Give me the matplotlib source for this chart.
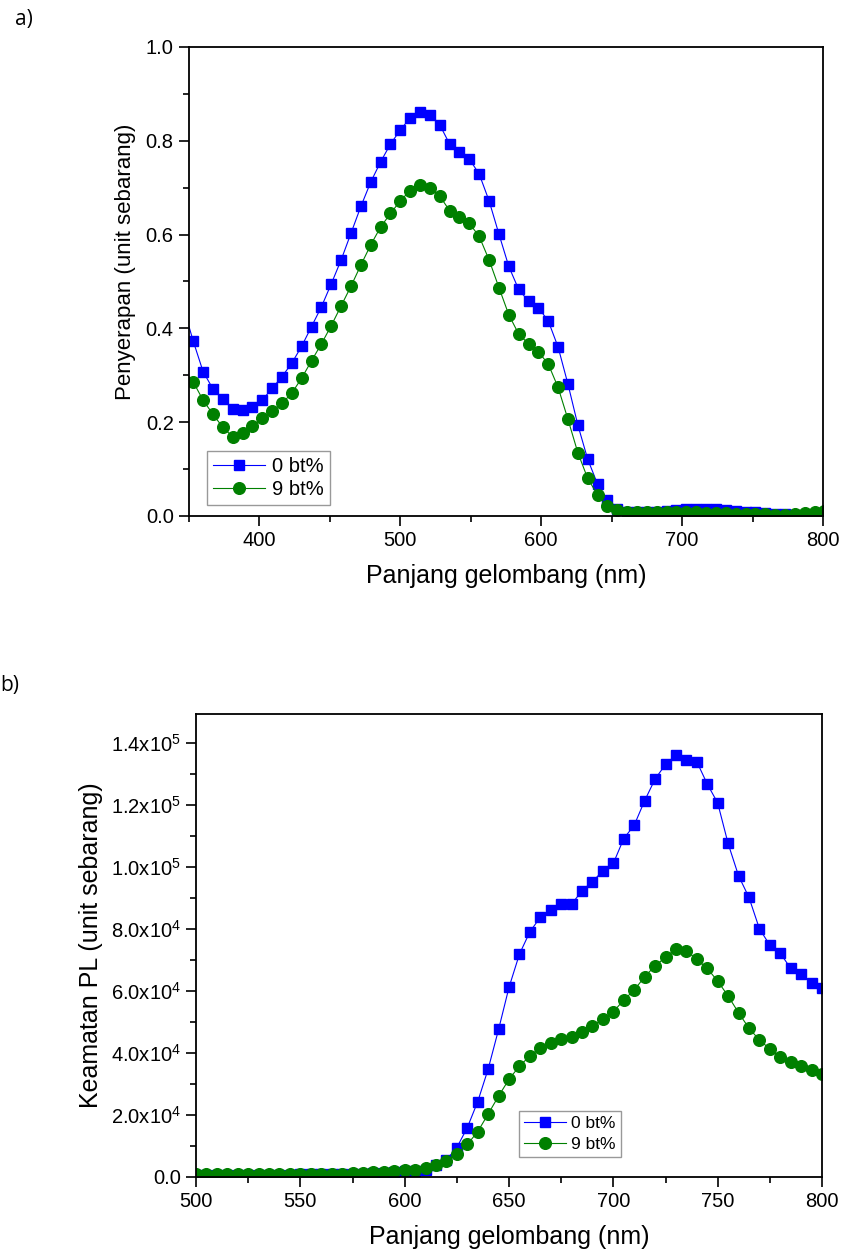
import math
import matplotlib
matplotlib.use("Agg")
import matplotlib.pyplot as plt
from matplotlib.ticker import MultipleLocator, FuncFormatter

plt.rcParams['font.family'] = ['Liberation Sans', 'DejaVu Sans']
plt.rcParams['mathtext.fontset'] = 'custom'
plt.rcParams['mathtext.rm'] = 'Liberation Sans'
plt.rcParams['mathtext.it'] = 'Liberation Sans'

# ---------------- data: (a) absorption ----------------
wl_a = [350, 353, 360, 367, 374, 381, 388, 395, 402, 409, 416, 423, 430, 437, 444, 451,
        458, 465, 472, 479, 486, 493, 500, 507, 514, 521, 528, 535, 542, 549, 556,
        563, 570, 577, 584, 591, 598, 605, 612, 619, 626, 633, 640, 647, 654, 661,
        668, 675, 682, 689, 696, 703, 710, 717, 724, 731, 738, 745, 752, 759, 766,
        773, 780, 787, 794, 801]
abs_0 = [0.404, 0.373, 0.308, 0.271, 0.249, 0.228, 0.225, 0.232, 0.247, 0.272, 0.297,
         0.326, 0.362, 0.404, 0.446, 0.495, 0.546, 0.603, 0.660, 0.712, 0.755, 0.793,
         0.823, 0.849, 0.862, 0.855, 0.834, 0.793, 0.777, 0.761, 0.729, 0.672, 0.601,
         0.532, 0.483, 0.458, 0.444, 0.416, 0.360, 0.281, 0.194, 0.121, 0.068, 0.034,
         0.014, 0.009, 0.008, 0.008, 0.009, 0.011, 0.013, 0.014, 0.015, 0.015, 0.014,
         0.012, 0.011, 0.009, 0.008, 0.006, 0.005, 0.004, 0.003, 0.003, 0.003, 0.003]
abs_9 = [0.297, 0.286, 0.247, 0.217, 0.189, 0.169, 0.176, 0.192, 0.208, 0.224, 0.240,
         0.262, 0.294, 0.331, 0.367, 0.406, 0.448, 0.490, 0.535, 0.578, 0.616, 0.645,
         0.672, 0.694, 0.705, 0.699, 0.682, 0.651, 0.638, 0.624, 0.596, 0.546, 0.487,
         0.429, 0.388, 0.367, 0.350, 0.324, 0.274, 0.206, 0.135, 0.080, 0.045, 0.021,
         0.013, 0.009, 0.008, 0.008, 0.008, 0.008, 0.008, 0.008, 0.008, 0.007, 0.007,
         0.006, 0.005, 0.005, 0.004, 0.004, 0.003, 0.003, 0.004, 0.006, 0.008, 0.010]

# ---------------- data: (b) photoluminescence (x1e4) ----------------
wl_b = [500, 505, 510, 515, 520, 525, 530, 535, 540, 545, 550, 555, 560, 565, 570, 575,
        580, 585, 590, 595, 600, 605, 610, 615, 620, 625, 630, 635, 640, 645, 650,
        655, 660, 665, 670, 675, 680, 685, 690, 695, 700, 705, 710, 715, 720, 725,
        730, 735, 740, 745, 750, 755, 760, 765, 770, 775, 780, 785, 790, 795, 800]
pl_0 = [0.06, 0.06, 0.06, 0.06, 0.06, 0.06, 0.07, 0.07, 0.07, 0.07, 0.08, 0.08, 0.08,
        0.09, 0.09, 0.10, 0.11, 0.12, 0.14, 0.16, 0.18, 0.20, 0.23, 0.37, 0.55, 0.95,
        1.59, 2.43, 3.48, 4.76, 6.12, 7.19, 7.91, 8.38, 8.63, 8.80, 8.80, 9.24, 9.53,
        9.88, 10.12, 10.92, 11.35, 12.14, 12.84, 13.31, 13.61, 13.47, 13.40, 12.68,
        12.07, 10.76, 9.72, 9.02, 8.01, 7.48, 7.22, 6.73, 6.55, 6.25, 6.09]
pl_9 = [0.08, 0.08, 0.08, 0.08, 0.08, 0.08, 0.08, 0.08, 0.09, 0.09, 0.09, 0.09, 0.10,
        0.10, 0.11, 0.12, 0.13, 0.15, 0.17, 0.19, 0.21, 0.24, 0.28, 0.39, 0.52, 0.73,
        1.05, 1.46, 2.03, 2.61, 3.15, 3.58, 3.90, 4.17, 4.31, 4.44, 4.53, 4.69, 4.87,
        5.10, 5.33, 5.71, 6.03, 6.46, 6.81, 7.09, 7.35, 7.30, 7.02, 6.73, 6.32, 5.84,
        5.30, 4.80, 4.42, 4.13, 3.86, 3.70, 3.58, 3.45, 3.31]
pl_scale = 1e4

labels = ['0 bt%', '9 bt%']
BLUE = '#0000ff'
GREEN = '#008000'

fig = plt.figure(figsize=(8.41, 12.53), dpi=100)

def style_axes(ax, lsize):
    for s in ax.spines.values():
        s.set_linewidth(1.3)
    ax.tick_params(which='major', direction='out', length=7, width=1.2, labelsize=lsize,
                   top=False, right=False, pad=4)
    ax.tick_params(which='minor', direction='out', length=4, width=1.2,
                   top=False, right=False)

# ---------- (a) ----------
ax1 = fig.add_axes([0.2247, 0.5882, 0.7539, 0.3743])
ax1.plot(wl_a, abs_0, color=BLUE, lw=0.8, marker='s', ms=7.4, markevery=slice(1, None),
         mec=BLUE, mfc=BLUE, label=labels[0])
ax1.plot(wl_a, abs_9, color=GREEN, lw=0.8, marker='o', ms=8.4, markevery=slice(1, None),
         mec=GREEN, mfc=GREEN, label=labels[1])
ax1.set_xlim(350, 800)
ax1.set_ylim(0, 1.0)
ax1.xaxis.set_major_locator(MultipleLocator(100))
ax1.xaxis.set_minor_locator(MultipleLocator(50))
ax1.yaxis.set_major_locator(MultipleLocator(0.2))
ax1.yaxis.set_minor_locator(MultipleLocator(0.1))
ax1.yaxis.set_major_formatter(FuncFormatter(lambda v, p: f"{v:.1f}"))
style_axes(ax1, 14.5)
ax1.set_xlabel('Panjang gelombang (nm)', fontsize=18, labelpad=10)
ax1.set_ylabel('Penyerapan (unit sebarang)', fontsize=16)
ax1.yaxis.set_label_coords(-0.084, 0.542)
leg1 = ax1.legend(loc='lower left', bbox_to_anchor=(0.028, 0.023), borderaxespad=0,
                  fontsize=14.5, frameon=True, fancybox=False, edgecolor='#808080',
                  handlelength=2.6, labelspacing=0.2, borderpad=0.3, handletextpad=0.35)
leg1.get_frame().set_linewidth(1.0)

# ---------- (b) ----------
ax2 = fig.add_axes([0.2331, 0.0607, 0.7443, 0.3695])
ax2.plot(wl_b, [v * pl_scale for v in pl_0], color=BLUE, lw=0.8, marker='s', ms=7.4,
         mec=BLUE, mfc=BLUE, label=labels[0])
ax2.plot(wl_b, [v * pl_scale for v in pl_9], color=GREEN, lw=0.8, marker='o', ms=8.4,
         mec=GREEN, mfc=GREEN, label=labels[1])
ax2.set_xlim(500, 800)
ax2.set_ylim(0, 1.494e5)
ax2.xaxis.set_major_locator(MultipleLocator(50))
ax2.xaxis.set_minor_locator(MultipleLocator(25))
ax2.yaxis.set_major_locator(MultipleLocator(2e4))
ax2.yaxis.set_minor_locator(MultipleLocator(1e4))

def sci_fmt(v, p):
    if abs(v) < 1e-9:
        return "0.0"
    e = int(math.floor(math.log10(abs(v))))
    m = v / 10 ** e
    return f"{m:.1f}x10$^{{{e}}}$"

ax2.yaxis.set_major_formatter(FuncFormatter(sci_fmt))
style_axes(ax2, 14.5)
ax2.set_xlabel('Panjang gelombang (nm)', fontsize=18, labelpad=10)
ax2.set_ylabel('Keamatan PL (unit sebarang)', fontsize=18)
ax2.yaxis.set_label_coords(-0.148, 0.5)
leg2 = ax2.legend(loc='lower left', bbox_to_anchor=(0.516, 0.043), borderaxespad=0,
                  fontsize=12.5, frameon=True, fancybox=False, edgecolor='#808080',
                  handlelength=2.4, labelspacing=0.3, borderpad=0.3, handletextpad=0.3)
leg2.get_frame().set_linewidth(1.0)

fig.text(15 / 841, 1 - 20 / 1253, 'a)', fontsize=15, family=['Open Sans', 'DejaVu Sans'],
         ha='left', va='center')
fig.text(0 / 841, 1 - 685 / 1253, 'b)', fontsize=15, family=['Open Sans', 'DejaVu Sans'],
         ha='left', va='center')

fig.savefig('out.png', dpi=100)
